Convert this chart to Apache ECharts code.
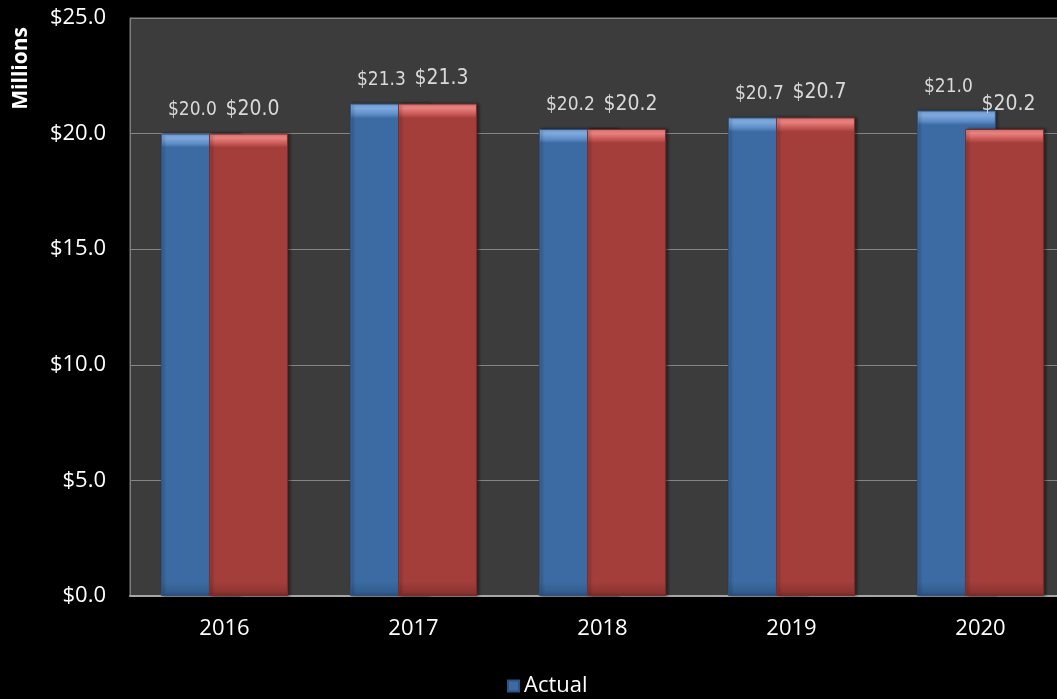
<!DOCTYPE html>
<html>
<head>
<meta charset="utf-8">
<script src="https://cdn.jsdelivr.net/npm/echarts@6/dist/echarts.min.js"></script>
<style>
  html,body{margin:0;padding:0;background:#000;}
  #chart{width:1057px;height:699px;}
</style>
</head>
<body>
<div id="chart"></div>
<script>
// data
let years=["2016","2017","2018","2019","2020"]
let actual=[20.0,21.3,20.2,20.7,21.0]
let budget=[20.0,21.3,20.2,20.7,20.2]
let yTicks={min:0,max:25,interval:5}

let narrow="'Liberation Sans Narrow','DejaVu Sans Condensed',sans-serif"

function bevel(light,mid,base,dark){
  return new echarts.graphic.LinearGradient(0,0,0,1,[
    {offset:0,color:light},
    {offset:0.01,color:light},
    {offset:0.022,color:mid},
    {offset:0.03,color:base},
    {offset:0.97,color:base},
    {offset:1,color:dark}
  ])
}

let myChart=echarts.init(document.getElementById("chart"))
myChart.setOption({
  backgroundColor:"#000",
  animation:false,
  grid:{
    left:130,
    top:18,
    width:945,
    height:578,
    outerBoundsMode:"none",
    containLabel:false,
    show:true,
    backgroundColor:"#3c3c3c",
    borderColor:"#7f7f7f",
    borderWidth:1
  },
  legend:{
    data:["Actual"],
    left:502,
    top:670,
    itemWidth:11,
    itemHeight:11,
    itemGap:4,
    icon:"rect",
    textStyle:{color:"#fff",fontSize:22,fontFamily:"'Open Sans',sans-serif"}
  },
  graphic:[{
    type:"text",
    left:11,
    top:27,
    rotation:Math.PI/2,
    style:{
      text:"Millions",
      fill:"#fff",
      font:"bold 21px 'Open Sans',sans-serif"
    }
  }],
  xAxis:{
    type:"category",
    data:years,
    axisTick:{show:false},
    axisLine:{lineStyle:{color:"#a6a6a6",width:2}},
    axisLabel:{color:"#fff",fontSize:22,margin:22,fontFamily:"'Open Sans',sans-serif"}
  },
  yAxis:{
    type:"value",
    min:yTicks.min,
    max:yTicks.max,
    interval:yTicks.interval,
    axisLine:{show:true,lineStyle:{color:"#7f7f7f"}},
    axisTick:{show:false},
    splitLine:{lineStyle:{color:"#858585",width:1}},
    axisLabel:{
      color:"#fff",
      fontSize:22,
      margin:24,
      fontFamily:"'Open Sans',sans-serif",
      formatter:v=>"$"+v.toFixed(1)
    }
  },
  series:[
    {
      name:"Actual",
      type:"bar",
      data:actual,
      barWidth:79,
      barGap:"-39%",
      itemStyle:{
        color:bevel("#7ea9de","#5d8cc6","#3c6ba3","#2f5887"),
        borderColor:"#2d5283",
        borderWidth:1,
        shadowColor:"rgba(0,0,0,0.45)",
        shadowBlur:3,
        shadowOffsetX:2
      },
      label:{
        show:true,
        position:"top",
        distance:14,
        offset:[-8,0],
        color:"#d9d9d9",
        fontSize:19,
        fontFamily:narrow,
        formatter:p=>"$"+p.value.toFixed(1)
      }
    },
    {
      name:"Budget",
      type:"bar",
      data:budget,
      barWidth:79,
      itemStyle:{
        color:bevel("#e8807d","#c65754","#a33e3b","#86302e"),
        borderColor:"#7d2b29",
        borderWidth:1,
        shadowColor:"rgba(0,0,0,0.45)",
        shadowBlur:3,
        shadowOffsetX:2
      },
      label:{
        show:true,
        position:"top",
        distance:14,
        offset:[4,0],
        color:"#d9d9d9",
        fontSize:21,
        fontFamily:narrow,
        formatter:p=>"$"+p.value.toFixed(1)
      }
    }
  ]
})
</script>
</body>
</html>
